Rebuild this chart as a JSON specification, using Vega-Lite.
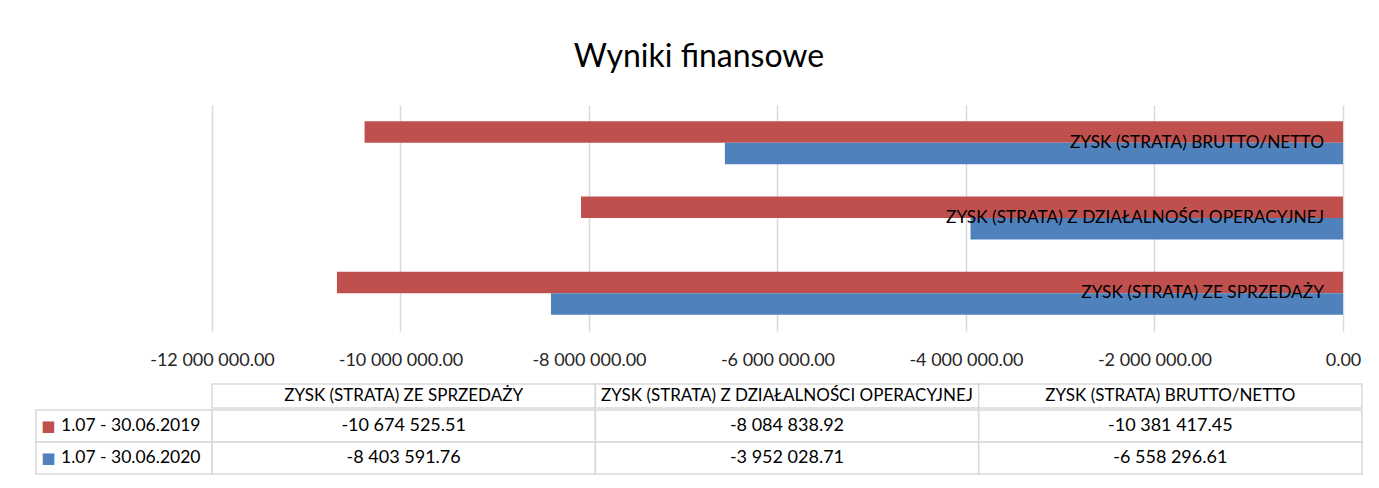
{
  "$schema": "https://vega.github.io/schema/vega-lite/v6.json",
  "background": "white",
  "padding": {"left": 35, "top": 41, "right": 18, "bottom": 16},
  "title": {"text": "Wyniki finansowe", "fontSize": 32, "font": "Lato", "fontWeight": "normal", "color": "#000000", "anchor": "middle", "offset": 31},
  "datasets": {
    "fin": [
      {"okres": "1.07 - 30.06.2019", "kategoria": "ZYSK (STRATA) ZE SPRZEDAŻY", "wartosc": -10674525.51},
      {"okres": "1.07 - 30.06.2019", "kategoria": "ZYSK (STRATA) Z DZIAŁALNOŚCI OPERACYJNEJ", "wartosc": -8084838.92},
      {"okres": "1.07 - 30.06.2019", "kategoria": "ZYSK (STRATA) BRUTTO/NETTO", "wartosc": -10381417.45},
      {"okres": "1.07 - 30.06.2020", "kategoria": "ZYSK (STRATA) ZE SPRZEDAŻY", "wartosc": -8403591.76},
      {"okres": "1.07 - 30.06.2020", "kategoria": "ZYSK (STRATA) Z DZIAŁALNOŚCI OPERACYJNEJ", "wartosc": -3952028.71},
      {"okres": "1.07 - 30.06.2020", "kategoria": "ZYSK (STRATA) BRUTTO/NETTO", "wartosc": -6558296.61}
    ]
  },
  "config": {
    "view": {"stroke": null},
    "font": "Lato",
    "locale": {"number": {"decimal": ".", "thousands": " ", "grouping": [3], "currency": ["", ""], "minus": "-"}}
  },
  "bounds": "flush",
  "spacing": 53,
  "vconcat": [
    {
      "width": 1326,
      "height": 226,
      "data": {"name": "fin"},
      "layer": [
        {
          "mark": {"type": "bar"},
          "encoding": {
            "y": {"field": "kategoria", "type": "nominal", "axis": null,
                  "scale": {"domain": ["ZYSK (STRATA) BRUTTO/NETTO", "ZYSK (STRATA) Z DZIAŁALNOŚCI OPERACYJNEJ", "ZYSK (STRATA) ZE SPRZEDAŻY"], "paddingInner": 0.43, "paddingOuter": 0.215}},
            "yOffset": {"field": "okres", "type": "nominal", "scale": {"domain": ["1.07 - 30.06.2019", "1.07 - 30.06.2020"], "paddingInner": 0, "paddingOuter": 0}},
            "x": {"field": "wartosc", "type": "quantitative",
                  "scale": {"domain": [-13867374, 201592], "nice": false},
                  "axis": {"values": [-12000000, -10000000, -8000000, -6000000, -4000000, -2000000, 0], "format": ",.2f", "grid": true, "gridColor": "#d9d9d9", "gridWidth": 1.5, "domain": false, "ticks": false, "labelFontSize": 18, "labelFont": "Lato", "labelColor": "#262626", "labelPadding": 20, "title": null, "labelFlush": false, "labelOverlap": false}},
            "color": {"field": "okres", "type": "nominal", "scale": {"domain": ["1.07 - 30.06.2019", "1.07 - 30.06.2020"], "range": ["#C0504D", "#4F81BD"]}, "legend": null}
          }
        },
        {
          "transform": [{"filter": "datum.okres === '1.07 - 30.06.2019'"}],
          "mark": {"type": "text", "align": "right", "baseline": "middle", "dx": -19, "fontSize": 17.3, "font": "Lato", "color": "#000000"},
          "encoding": {
            "y": {"field": "kategoria", "type": "nominal"},
            "x": {"datum": 0, "type": "quantitative"},
            "text": {"field": "kategoria", "type": "nominal"}
          }
        }
      ]
    },
    {
      "spacing": 0,
      "vconcat": [
        {
          "bounds": "flush",
          "spacing": 0,
          "hconcat": [
            {"width": 176, "height": 24, "data": {"values": []}, "mark": "rect"},
            {
              "width": 1150,
              "height": 24,
              "data": {"name": "fin"},
              "transform": [{"filter": "datum.okres === '1.07 - 30.06.2019'"}],
              "encoding": {
                "x": {"field": "kategoria", "type": "nominal", "axis": null,
                      "scale": {"domain": ["ZYSK (STRATA) ZE SPRZEDAŻY", "ZYSK (STRATA) Z DZIAŁALNOŚCI OPERACYJNEJ", "ZYSK (STRATA) BRUTTO/NETTO"], "paddingInner": 0, "paddingOuter": 0}}
              },
              "layer": [
                {"mark": {"type": "rect", "fill": "white", "stroke": "#d9d9d9", "strokeWidth": 1.5}},
                {"mark": {"type": "text", "fontSize": 17, "baseline": "middle", "color": "#000000"}, "encoding": {"text": {"field": "kategoria", "type": "nominal"}}}
              ]
            }
          ]
        },
        {
          "bounds": "flush",
          "spacing": 0,
          "hconcat": [
            {
              "width": 176,
              "height": 64,
              "data": {"name": "fin"},
              "transform": [{"filter": "datum.kategoria === 'ZYSK (STRATA) ZE SPRZEDAŻY'"}],
              "mark": {"type": "rect", "fill": "white", "stroke": "#d9d9d9", "strokeWidth": 1.5},
              "encoding": {
                "y": {"field": "okres", "type": "nominal", "axis": null, "scale": {"domain": ["1.07 - 30.06.2019", "1.07 - 30.06.2020"], "paddingInner": 0, "paddingOuter": 0}}
              }
            },
            {
              "width": 1150,
              "height": 64,
              "data": {"name": "fin"},
              "encoding": {
                "x": {"field": "kategoria", "type": "nominal", "axis": null,
                      "scale": {"domain": ["ZYSK (STRATA) ZE SPRZEDAŻY", "ZYSK (STRATA) Z DZIAŁALNOŚCI OPERACYJNEJ", "ZYSK (STRATA) BRUTTO/NETTO"], "paddingInner": 0, "paddingOuter": 0}}
              },
              "layer": [
                {
                  "mark": {"type": "rect", "fill": "white", "stroke": "#d9d9d9", "strokeWidth": 1.5},
                  "encoding": {
                    "y": {"field": "okres", "type": "nominal",
                          "scale": {"domain": ["1.07 - 30.06.2019", "1.07 - 30.06.2020"], "paddingInner": 0, "paddingOuter": 0},
                          "axis": {"orient": "left", "title": null, "domain": false, "ticks": false, "grid": false, "labelFontSize": 17.5, "labelFont": "Lato", "labelColor": "#000000", "labelPadding": 12, "labelAlign": "right"}}
                  }
                },
                {
                  "mark": {"type": "text", "fontSize": 18, "baseline": "middle", "color": "#000000"},
                  "encoding": {
                    "y": {"field": "okres", "type": "nominal",
                          "axis": {"orient": "left", "title": null, "domain": false, "ticks": false, "grid": false, "labelExpr": "'■'", "labelFont": "DejaVu Sans", "labelFontSize": 15, "labelPadding": 157, "labelColor": {"condition": {"test": "indexof(datum.value, '2019') >= 0", "value": "#C0504D"}, "value": "#4F81BD"}}},
                    "text": {"field": "wartosc", "type": "quantitative", "format": ",.2f"}
                  }
                }
              ],
              "resolve": {"axis": {"y": "independent"}}
            }
          ]
        }
      ]
    }
  ]
}
